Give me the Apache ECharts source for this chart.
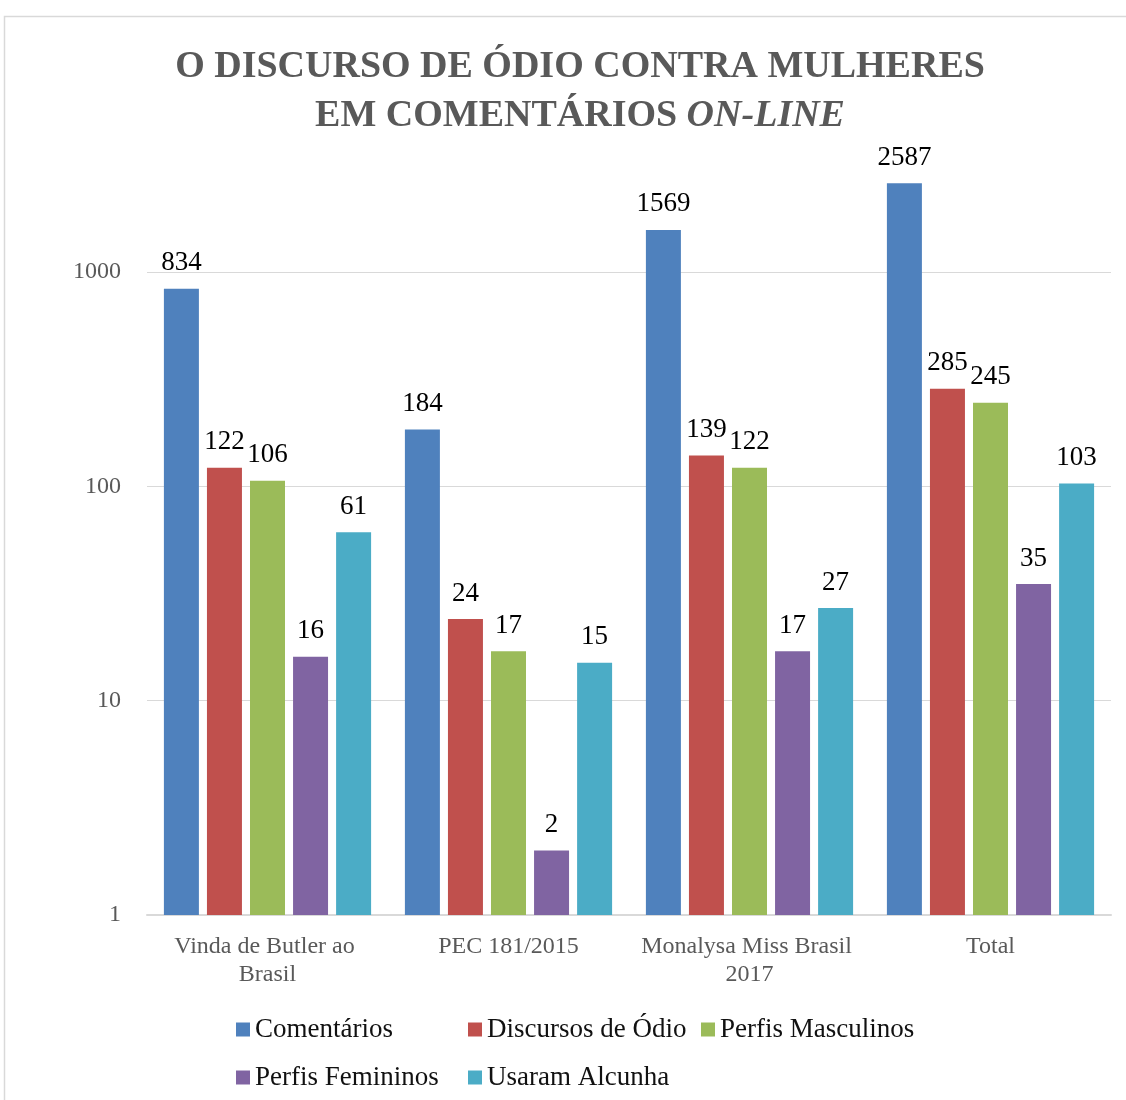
<!DOCTYPE html>
<html>
<head>
<meta charset="utf-8">
<script src="https://cdn.jsdelivr.net/npm/echarts@6/dist/echarts.min.js"></script>
<style>
  html, body { margin: 0; padding: 0; background: #fff; }
  #chart { width: 1126px; height: 1100px; }
</style>
</head>
<body>
<div id="chart"></div>
<script>
// categorias e séries
const categories = ['Vinda de Butler ao Brasil', 'PEC 181/2015', 'Monalysa Miss Brasil 2017', 'Total']
const comentarios = [834, 184, 1569, 2587]
const discursos = [122, 24, 139, 285]
const perfisMasc = [106, 17, 122, 245]
const perfisFem = [16, 2, 17, 35]
const alcunha = [61, 15, 27, 103]

const seriesNames = ['Comentários', 'Discursos de Ódio', 'Perfis Masculinos', 'Perfis Femininos', 'Usaram Alcunha']
const seriesData = [comentarios, discursos, perfisMasc, perfisFem, alcunha]
const colors = ['#4F81BD', '#C0504D', '#9BBB59', '#8064A2', '#4BACC6']

const FONT = 'Liberation Serif, DejaVu Serif, serif'

const chart = echarts.init(document.getElementById('chart'))

const legendBase = {
  orient: 'vertical',
  top: 1016,
  padding: 0,
  itemWidth: 14,
  itemHeight: 14,
  itemGap: 21,
  icon: 'rect',
  selectedMode: false,
  textStyle: { fontFamily: FONT, fontSize: 27, color: '#111' },
}

const option = {
  animation: false,
  color: colors,
  title: {
    left: 575,
    top: 38,
    textAlign: 'center',
    text: '{a|O DISCURSO DE ÓDIO CONTRA MULHERES}\n{a|EM COMENTÁRIOS }{b|ON-LINE}',
    textStyle: {
      rich: {
        a: { fontFamily: FONT, fontWeight: 'bold', fontSize: 38, color: '#595959', lineHeight: 49 },
        b: { fontFamily: FONT, fontWeight: 'bold', fontStyle: 'italic', fontSize: 38, color: '#595959', lineHeight: 49 },
      },
    },
  },
  graphic: [
    {
      type: 'rect',
      shape: { x: 4.5, y: 16.5, width: 1200, height: 1200 },
      style: { fill: 'none', stroke: '#d9d9d9', lineWidth: 1.5 },
      silent: true,
    },
  ],
  legend: [
    Object.assign({}, legendBase, { left: 236, data: ['Comentários', 'Perfis Femininos'] }),
    Object.assign({}, legendBase, { left: 468, data: ['Discursos de Ódio', 'Usaram Alcunha'] }),
    Object.assign({}, legendBase, { left: 701, data: ['Perfis Masculinos'] }),
  ],
  grid: { left: 147, right: 15, top: 150, bottom: 185 },
  xAxis: {
    type: 'category',
    data: categories,
    axisTick: { show: false },
    axisLine: { lineStyle: { color: '#d9d9d9', width: 2 } },
    axisLabel: {
      interval: 0,
      margin: 18,
      width: 225,
      overflow: 'break',
      fontFamily: FONT,
      fontSize: 24,
      lineHeight: 28,
      color: '#595959',
    },
  },
  yAxis: {
    type: 'log',
    logBase: 10,
    min: 1,
    max: 3700,
    axisLine: { show: false },
    axisTick: { show: false },
    axisLabel: {
      showMaxLabel: false,
      margin: 26,
      fontFamily: FONT,
      fontSize: 24,
      color: '#595959',
      formatter: (v) => String(Math.round(v)),
    },
    splitLine: { showMaxLine: false, showMinLine: false, lineStyle: { color: '#d9d9d9', width: 1 } },
  },
  series: seriesNames.map((name, i) => ({
    name,
    type: 'bar',
    data: seriesData[i],
    barWidth: 35,
    barGap: '23%',
    barCategoryGap: '14%',
    label: {
      show: true,
      position: 'top',
      distance: 12,
      fontFamily: FONT,
      fontSize: 27,
      color: '#000',
    },
  })),
}

chart.setOption(option)
</script>
</body>
</html>
